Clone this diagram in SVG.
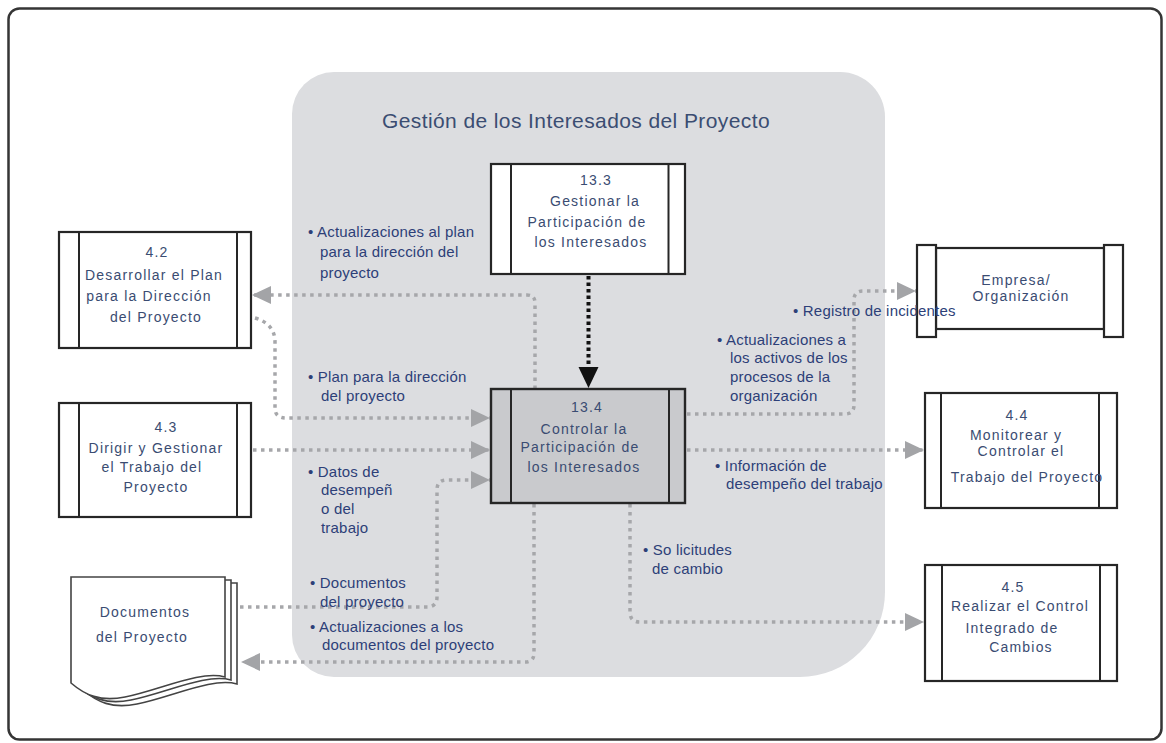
<svg xmlns="http://www.w3.org/2000/svg" width="1166" height="743" viewBox="0 0 1166 743">
  <style>
    .frame { fill: #ffffff; stroke: #353535; stroke-width: 2.5; }
    .panel { fill: #dcdde0; }
    .box { fill: #ffffff; stroke: #262626; stroke-width: 2.2; }
    .box-active { fill: #c9cacd; stroke: #262626; stroke-width: 2.4; }
    .bar { fill: none; stroke: #262626; stroke-width: 2; }
    .bar-fill { fill: #ffffff; stroke: #262626; stroke-width: 2.2; }
    .doc { fill: #ffffff; stroke: #444444; stroke-width: 1.6; }
    .title { font-family: "Liberation Sans", Arial, sans-serif; font-size: 21px; letter-spacing: 0.4px; fill: #3b4d72; }
    .node-text { font-family: "Liberation Sans", Arial, sans-serif; font-size: 14px; letter-spacing: 1.2px; fill: #3a4c72; text-anchor: middle; }
    .label { font-family: "Liberation Sans", Arial, sans-serif; font-size: 15px; letter-spacing: 0.2px; fill: #2d3f78; }
    .flow { fill: none; stroke: #a6a7aa; stroke-width: 3.5; stroke-dasharray: 3.5 4.5; }
    .flow-main { fill: none; stroke: #111111; stroke-width: 4; stroke-dasharray: 3.5 3; }
  </style>
  <defs>
    <marker id="arrow-gray" markerUnits="userSpaceOnUse" markerWidth="20" markerHeight="20" refX="19" refY="10" orient="auto">
      <path d="M0,1 L19,10 L0,19 Z" fill="#a3a4a7"/>
    </marker>
  </defs>

  <!-- outer frame -->
  <rect class="frame" x="8.5" y="8.5" width="1153" height="731" rx="11"/>

  <!-- process group panel -->
  <g id="panel">
    <path class="panel" d="M334 72 H840 A45 45 0 0 1 885 117 V592 A85 85 0 0 1 800 677 H334 A42 42 0 0 1 292 635 V114 A42 42 0 0 1 334 72 Z"/>
    <text class="title" x="382" y="128">Gestión de los Interesados del Proyecto</text>
  </g>

  <!-- connectors -->
  <g id="connectors">
    <!-- 13.4 -> 4.2 -->
    <path class="flow" d="M535 389 V303 Q535 295 527 295 H252" marker-end="url(#arrow-gray)"/>
    <!-- 4.2 -> 13.4 -->
    <path class="flow" d="M255 318 Q275 324 275 342 V408 Q275 418 286 418 H490" marker-end="url(#arrow-gray)"/>
    <!-- 4.3 -> 13.4 -->
    <path class="flow" d="M253 450 H490" marker-end="url(#arrow-gray)"/>
    <!-- Documentos -> 13.4 -->
    <path class="flow" d="M240 607 H428 Q437 606 437 597 V490 Q437 480 447 480 H490" marker-end="url(#arrow-gray)"/>
    <!-- 13.4 -> Documentos -->
    <path class="flow" d="M534 504 V653 Q534 662 525 662 H241" marker-end="url(#arrow-gray)"/>
    <!-- 13.4 -> Empresa/Organización -->
    <path class="flow" d="M687 414 H845 Q854 414 854 405 V300 Q854 291 863 291 H916" marker-end="url(#arrow-gray)"/>
    <!-- 13.4 -> 4.4 -->
    <path class="flow" d="M687 450 H924" marker-end="url(#arrow-gray)"/>
    <!-- 13.4 -> 4.5 -->
    <path class="flow" d="M630 504 V612 Q630 622 640 622 H924" marker-end="url(#arrow-gray)"/>
    <!-- 13.3 -> 13.4 -->
    <path class="flow-main" d="M588.5 276 V367"/>
    <path d="M578.5 367 L598.5 367 L588.5 388 Z" fill="#111111"/>
  </g>

  <!-- flow labels -->
  <g id="labels">
    <text class="label" x="308" y="237">• Actualizaciones al plan</text>
    <text class="label" x="320" y="257">para la dirección del</text>
    <text class="label" x="320" y="278">proyecto</text>

    <text class="label" x="308" y="382">• Plan para la dirección</text>
    <text class="label" x="321" y="401">del proyecto</text>

    <text class="label" x="308" y="477">• Datos de</text>
    <text class="label" x="321" y="495">desempeñ</text>
    <text class="label" x="321" y="514">o del</text>
    <text class="label" x="321" y="533">trabajo</text>

    <text class="label" x="310" y="588">• Documentos</text>
    <text class="label" x="320" y="607">del proyecto</text>

    <text class="label" x="310" y="632">• Actualizaciones a los</text>
    <text class="label" x="322" y="650">documentos del proyecto</text>

    <text class="label" x="717" y="345">• Actualizaciones a</text>
    <text class="label" x="730" y="363">los activos de los</text>
    <text class="label" x="730" y="382">procesos de la</text>
    <text class="label" x="730" y="401">organización</text>

    <text class="label" x="715" y="471">• Información de</text>
    <text class="label" x="726" y="489">desempeño del trabajo</text>

    <text class="label" x="643" y="555">• So licitudes</text>
    <text class="label" x="652" y="574">de cambio</text>
  </g>

  <!-- 13.3 Gestionar la Participación de los Interesados -->
  <g id="node-13-3">
    <rect class="box" x="491" y="164" width="194" height="110"/>
    <line class="bar" x1="511" y1="164" x2="511" y2="274"/>
    <line class="bar" x1="668.5" y1="164" x2="668.5" y2="274"/>
    <text class="node-text" x="596" y="185">13.3</text>
    <text class="node-text" x="595" y="206">Gestionar la</text>
    <text class="node-text" x="587" y="227">Participación de</text>
    <text class="node-text" x="591" y="247">los Interesados</text>
  </g>

  <!-- 13.4 Controlar la Participación de los Interesados -->
  <g id="node-13-4">
    <rect class="box-active" x="491" y="389" width="194" height="114"/>
    <line class="bar" x1="511" y1="389" x2="511" y2="503"/>
    <line class="bar" x1="669" y1="389" x2="669" y2="503"/>
    <text class="node-text" x="587" y="412">13.4</text>
    <text class="node-text" x="584" y="434">Controlar la</text>
    <text class="node-text" x="580" y="452">Participación de</text>
    <text class="node-text" x="584" y="472">los Interesados</text>
  </g>

  <!-- 4.2 Desarrollar el Plan para la Dirección del Proyecto -->
  <g id="node-4-2">
    <rect class="box" x="59" y="232" width="192" height="116"/>
    <line class="bar" x1="79" y1="232" x2="79" y2="348"/>
    <line class="bar" x1="237" y1="232" x2="237" y2="348"/>
    <text class="node-text" x="157" y="257">4.2</text>
    <text class="node-text" x="154" y="280">Desarrollar el Plan</text>
    <text class="node-text" x="149" y="301">para la Dirección</text>
    <text class="node-text" x="156" y="322">del Proyecto</text>
  </g>

  <!-- 4.3 Dirigir y Gestionar el Trabajo del Proyecto -->
  <g id="node-4-3">
    <rect class="box" x="59" y="403" width="192" height="114"/>
    <line class="bar" x1="79" y1="403" x2="79" y2="517"/>
    <line class="bar" x1="237" y1="403" x2="237" y2="517"/>
    <text class="node-text" x="166" y="432">4.3</text>
    <text class="node-text" x="156" y="453">Dirigir y Gestionar</text>
    <text class="node-text" x="152" y="472">el Trabajo del</text>
    <text class="node-text" x="156" y="492">Proyecto</text>
  </g>

  <!-- Documentos del Proyecto (stacked pages) -->
  <g id="node-documentos">
    <path class="doc" d="M83 583 H237 V684 C212 677 172 697 137 704 C112 709 97 702 83 690 Z"/>
    <path class="doc" d="M77 580 H231 V680 C206 673 166 693 131 700 C106 705 91 698 77 686 Z"/>
    <path class="doc" d="M71 577 H225 V677 C200 670 160 690 125 697 C100 702 85 695 71 683 Z"/>
    <text class="node-text" x="145" y="617">Documentos</text>
    <text class="node-text" x="142" y="642">del Proyecto</text>
  </g>

  <!-- Empresa/Organización -->
  <g id="node-empresa">
    <rect class="box" x="936" y="248" width="168" height="81"/>
    <rect class="bar-fill" x="917" y="245" width="19" height="92"/>
    <rect class="bar-fill" x="1104" y="245" width="19" height="92"/>
    <text class="node-text" x="1016" y="285">Empresa/</text>
    <text class="node-text" x="1021" y="301">Organización</text>
  </g>

  <!-- label drawn over the Empresa box edge -->
  <g id="label-registro">
    <text class="label" x="793" y="316">• Registro de incidentes</text>
  </g>

  <!-- 4.4 Monitorear y Controlar el Trabajo del Proyecto -->
  <g id="node-4-4">
    <rect class="box" x="925" y="393" width="192" height="115"/>
    <line class="bar" x1="941" y1="393" x2="941" y2="508"/>
    <line class="bar" x1="1099" y1="393" x2="1099" y2="508"/>
    <text class="node-text" x="1017" y="420">4.4</text>
    <text class="node-text" x="1016" y="440">Monitorear y</text>
    <text class="node-text" x="1021" y="456">Controlar el</text>
    <text class="node-text" x="1027" y="482">Trabajo del Proyecto</text>
  </g>

  <!-- 4.5 Realizar el Control Integrado de Cambios -->
  <g id="node-4-5">
    <rect class="box" x="925" y="565" width="192" height="116"/>
    <line class="bar" x1="942" y1="565" x2="942" y2="681"/>
    <line class="bar" x1="1100" y1="565" x2="1100" y2="681"/>
    <text class="node-text" x="1013" y="592">4.5</text>
    <text class="node-text" x="1020" y="611">Realizar el Control</text>
    <text class="node-text" x="1012" y="633">Integrado de</text>
    <text class="node-text" x="1021" y="652">Cambios</text>
  </g>
</svg>
